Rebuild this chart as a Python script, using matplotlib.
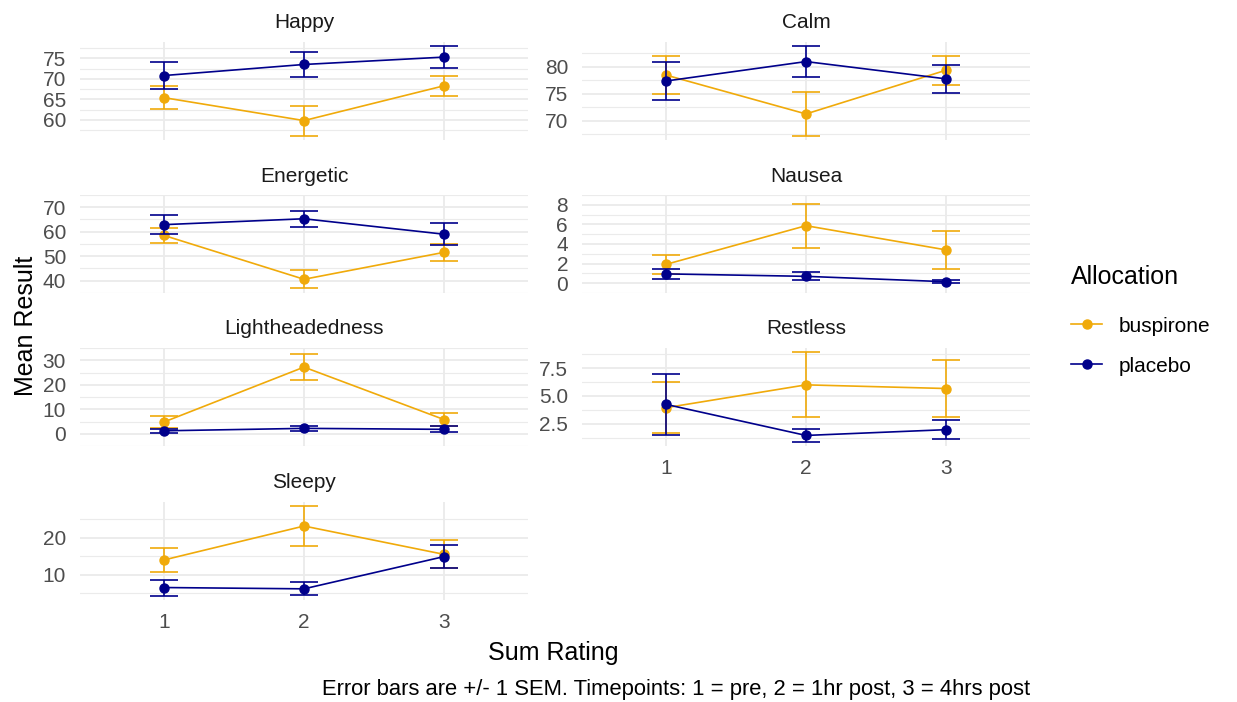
import matplotlib
matplotlib.use('Agg')
import matplotlib.pyplot as plt
from matplotlib.lines import Line2D
import numpy as np

plt.rcParams['font.family'] = ['Liberation Sans', 'DejaVu Sans']

timepoints = [1, 2, 3]
groups = ['buspirone', 'placebo']
colors = {'buspirone': '#F0AA0A', 'placebo': '#00008B'}

panels = ['Happy', 'Calm', 'Energetic', 'Nausea', 'Lightheadedness', 'Restless', 'Sleepy']

# mean and SEM per panel, per group
happy_busp = [65.4, 59.8, 68.3]
happy_busp_se = [2.85, 3.65, 2.5]
happy_plac = [70.8, 73.5, 75.3]
happy_plac_se = [3.35, 2.95, 2.6]

calm_busp = [78.5, 71.3, 79.4]
calm_busp_se = [3.55, 4.0, 2.65]
calm_plac = [77.4, 81.0, 77.8]
calm_plac_se = [3.5, 2.8, 2.65]

energetic_busp = [58.5, 40.6, 51.6]
energetic_busp_se = [3.05, 3.75, 3.4]
energetic_plac = [62.9, 65.3, 59.0]
energetic_plac_se = [3.85, 3.2, 4.6]

nausea_busp = [1.92, 5.87, 3.4]
nausea_busp_se = [1.0, 2.25, 1.94]
nausea_plac = [0.95, 0.7, 0.15]
nausea_plac_se = [0.48, 0.41, 0.18]

light_busp = [4.8, 27.2, 5.8]
light_busp_se = [2.35, 5.25, 2.6]
light_plac = [1.2, 2.2, 1.8]
light_plac_se = [0.9, 1.1, 1.2]

restless_busp = [3.94, 6.0, 5.67]
restless_busp_se = [2.28, 2.92, 2.58]
restless_plac = [4.24, 1.44, 1.96]
restless_plac_se = [2.74, 0.55, 0.83]

sleepy_busp = [14.0, 23.1, 15.5]
sleepy_busp_se = [3.15, 5.25, 3.75]
sleepy_plac = [6.6, 6.25, 14.9]
sleepy_plac_se = [2.15, 1.7, 3.0]

data = {
    'Happy': {'buspirone': (happy_busp, happy_busp_se), 'placebo': (happy_plac, happy_plac_se)},
    'Calm': {'buspirone': (calm_busp, calm_busp_se), 'placebo': (calm_plac, calm_plac_se)},
    'Energetic': {'buspirone': (energetic_busp, energetic_busp_se), 'placebo': (energetic_plac, energetic_plac_se)},
    'Nausea': {'buspirone': (nausea_busp, nausea_busp_se), 'placebo': (nausea_plac, nausea_plac_se)},
    'Lightheadedness': {'buspirone': (light_busp, light_busp_se), 'placebo': (light_plac, light_plac_se)},
    'Restless': {'buspirone': (restless_busp, restless_busp_se), 'placebo': (restless_plac, restless_plac_se)},
    'Sleepy': {'buspirone': (sleepy_busp, sleepy_busp_se), 'placebo': (sleepy_plac, sleepy_plac_se)},
}

yticks = {
    'Happy': [60, 65, 70, 75],
    'Calm': [70, 75, 80],
    'Energetic': [40, 50, 60, 70],
    'Nausea': [0, 2, 4, 6, 8],
    'Lightheadedness': [0, 10, 20, 30],
    'Restless': [2.5, 5.0, 7.5],
    'Sleepy': [10, 20],
}
ytick_labels = {'Restless': ['2.5', '5.0', '7.5']}

W, H = 1237, 702
fig = plt.figure(figsize=(W / 100, H / 100), dpi=100)
fig.patch.set_facecolor('white')

col_x = [80, 582]
panel_w = 448
row_top = [42, 195, 348, 502]
panel_h = 98
grid_col = '#EBEBEB'
small = 15

for i, name in enumerate(panels):
    r, c = i // 2, i % 2
    ax = fig.add_axes([col_x[c] / W, 1 - (row_top[r] + panel_h) / H, panel_w / W, panel_h / H])
    lo, hi = [], []
    for g in groups:
        m, se = data[name][g]
        m = np.array(m); se = np.array(se)
        lo.append((m - se).min()); hi.append((m + se).max())
        ax.errorbar(timepoints, m, yerr=se, color=colors[g], lw=1.2, capsize=10, capthick=1.2,
                    marker='o', ms=6.5, zorder=3 if g == 'placebo' else 2)
    ymin, ymax = min(lo), max(hi)
    pad = (ymax - ymin) * 0.05
    ax.set_ylim(ymin - pad, ymax + pad)
    ax.set_xlim(0.4, 3.6)
    t = yticks[name]
    step = t[1] - t[0]
    minor = np.arange(t[0] - step / 2, t[-1] + step, step)
    ax.set_yticks(t)
    ax.set_yticks(minor, minor=True)
    if name in ytick_labels:
        ax.set_yticklabels(ytick_labels[name])
    ax.set_xticks(timepoints)
    ax.grid(True, which='major', color=grid_col, lw=1.3)
    ax.grid(True, which='minor', axis='y', color=grid_col, lw=0.8)
    ax.set_axisbelow(True)
    for s in ax.spines.values():
        s.set_visible(False)
    ax.tick_params(which='both', length=0, labelsize=small, labelcolor='#4D4D4D')
    ax.tick_params(axis='y', pad=10)
    if name in ('Sleepy', 'Restless'):
        ax.tick_params(axis='x', pad=9)
    else:
        ax.set_xticklabels([])
    ax.text(0.5, 1 + 19 / panel_h, name, transform=ax.transAxes, ha='center', va='center',
            fontsize=small, color='#1A1A1A')

fig.text(26 / W, 1 - 326 / H, 'Mean Result', rotation=90, ha='center', va='center', fontsize=18, color='black')
fig.text(553 / W, 1 - 653 / H, 'Sum Rating', ha='center', va='center', fontsize=18, color='black')
fig.text(1030 / W, 1 - 690 / H, 'Error bars are +/- 1 SEM. Timepoints: 1 = pre, 2 = 1hr post, 3 = 4hrs post',
         ha='right', va='center', fontsize=15.8, color='black')

handles = [Line2D([0], [0], color=colors[g], lw=1.2, marker='o', ms=6.5) for g in groups]
leg = fig.legend(handles, groups, loc='upper left', bbox_to_anchor=(1071 / W, 1 - 265 / H),
                 frameon=False, title='Allocation', title_fontsize=18, fontsize=small,
                 handlelength=1.5, handletextpad=0.8, labelspacing=1.0, borderpad=0,
                 borderaxespad=0, alignment='left')
leg._legend_box.sep = 20

fig.savefig('out.png', dpi=100)
